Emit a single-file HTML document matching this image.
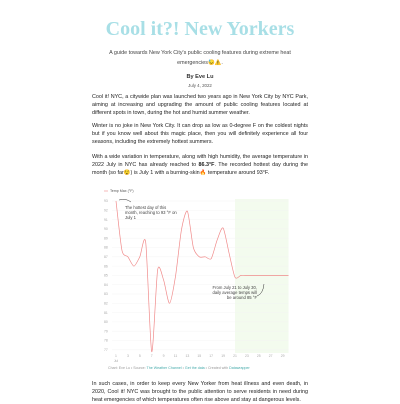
<!DOCTYPE html>
<html><head><meta charset="utf-8"><style>
body{margin:0;width:400px;height:400px;overflow:hidden;background:#fff;font-family:"Liberation Sans","Noto Sans CJK SC",sans-serif;color:#333;position:relative}
.p{position:absolute;left:92px;width:216px;font-size:5.4px;line-height:8px;text-align:justify;margin:0;color:#222}
.c{position:absolute;left:80px;width:240px;text-align:center}
</style></head><body>
<div class="c" style="top:18px;font-family:'Liberation Serif',serif;font-weight:bold;font-size:20px;color:#a8dfe6">Cool it?! New Yorkers</div>
<div class="c" style="top:48px;font-size:5.4px;line-height:10px;color:#444;left:100px;width:200px">A guide towards New York City's public cooling features during extreme heat emergencies😓⚠️.</div>
<div class="c" style="top:74px;font-size:5.6px;font-weight:bold;color:#333">By Eve Lu</div>
<div class="c" style="top:83px;font-size:4.4px;color:#555">July 4, 2022</div>
<p class="p" style="top:93px">Cool it! NYC, a citywide plan was launched two years ago in New York City by NYC Park, aiming at increasing and upgrading the amount of public cooling features located at different spots in town, during the hot and humid summer weather.</p>
<p class="p" style="top:122px">Winter is no joke in New York City. It can drop as low as 0-degree F on the coldest nights but if you know well about this magic place, then you will definitely experience all four seasons, including the extremely hottest summers.</p>
<p class="p" style="top:153px">With a wide variation in temperature, along with high humidity, the average temperature in 2022 July in NYC has already reached to <b>86.3°F</b>. The recorded hottest day during the month (so far😯) is July 1 with a burning-skin🔥 temperature around 93°F.</p>
<svg id="chart" style="position:absolute;left:0;top:0" width="400" height="400"></svg>
<div style="position:absolute;left:108px;top:366px;font-size:3.6px;color:#999">Chart: Eve Lu • Source: <span style="color:#4aa">The Weather Channel</span> • <span style="color:#4aa">Get the data</span> • Created with <span style="color:#4aa">Datawrapper</span></div>
<p class="p" style="top:380px">In such cases, in order to keep every New Yorker from heat illness and even death, in 2020, Cool it! NYC was brought to the public attention to serve residents in need during heat emergencies of which temperatures often rise above and stay at dangerous levels.</p>
<script>
const days=[1,2,3,4,5,6,7,8,9,10,11,12,13,14,15,16,17,18,19,20,21,22,23,24,25,26,27,28,29,30];
const temps=[93,87.7,87,86,87,88.5,76.8,85.6,84.5,82,84.9,89.9,91.9,88,87,87,86.8,88.8,90.1,87.4,84.8,85,85,85,85,85,85,85,85,85];
const yTicks=[93,92,91,90,89,88,87,86,85,84,83,82,81,80,79,78,77];
const xTicks=[1,3,5,7,9,11,13,15,17,19,21,23,25,27,29];
const NS="http://www.w3.org/2000/svg",svg=document.getElementById('chart');
const x=d=>116+(d-1)*5.95, y=v=>201+(93-v)*9.3;
function mk(t,a){const e=document.createElementNS(NS,t);for(const k in a)e.setAttribute(k,a[k]);svg.appendChild(e);return e;}
const sh=mk('rect',{x:x(21),y:199,width:x(30)-x(21),height:154,fill:'#f3fbee'});


yTicks.forEach(v=>{const g=mk('line',{x1:112,x2:x(30),y1:y(v),y2:y(v),stroke:'#f2f2f2','stroke-width':0.4});


const t=mk('text',{x:104,y:y(v)+1.2,'font-size':3.4,fill:'#aaa'});t.textContent=v;

});
xTicks.forEach(d=>{const t=mk('text',{x:x(d),y:357,'font-size':3.4,fill:'#aaa','text-anchor':'middle'});t.textContent=d;

});
const jl=mk('text',{x:x(1),y:362,'font-size':3.4,fill:'#aaa','text-anchor':'middle'});jl.textContent='Jul';


const P=days.map((d,i)=>[x(d),y(temps[i])]);
let dstr='M'+P[0][0]+','+P[0][1];
const k=8;
for(let i=0;i<P.length-1;i++){const p0=P[i-1]||P[i],p1=P[i],p2=P[i+1],p3=P[i+2]||p2;
dstr+=` C${p1[0]+(p2[0]-p0[0])/k},${p1[1]+(p2[1]-p0[1])/k} ${p2[0]-(p3[0]-p1[0])/k},${p2[1]-(p3[1]-p1[1])/k} ${p2[0]},${p2[1]}`;}
const ln=mk('path',{d:dstr,fill:'none',stroke:'#f08a8a','stroke-width':0.7});


mk('line',{x1:104,x2:108,y1:191,y2:191,stroke:'#f08a8a','stroke-width':0.6});
const lg=mk('text',{x:110,y:192.2,'font-size':3.6,fill:'#555'});lg.textContent='Temp Max (°F)';


function ann(lines,x0,y0,anchor,name){lines.forEach((s,i)=>{const t=mk('text',{x:x0,y:y0+i*5,'font-size':4.2,fill:'#444','text-anchor':anchor});t.textContent=s;

});}
ann(['The hottest day of this','month, reaching to 93 °F on','July 1'],125,209,'start','hottest-day-annotation');
ann(['From July 21 to July 30,','daily average temps will','be around 85 °F'],257,289,'end','forecast-annotation');
mk('path',{d:'M131,202 Q126,198 119,200',fill:'none',stroke:'#333','stroke-width':0.5});
mk('path',{d:'M257,296 Q263,294 264,284',fill:'none',stroke:'#333','stroke-width':0.5});
</script>
</body></html>
